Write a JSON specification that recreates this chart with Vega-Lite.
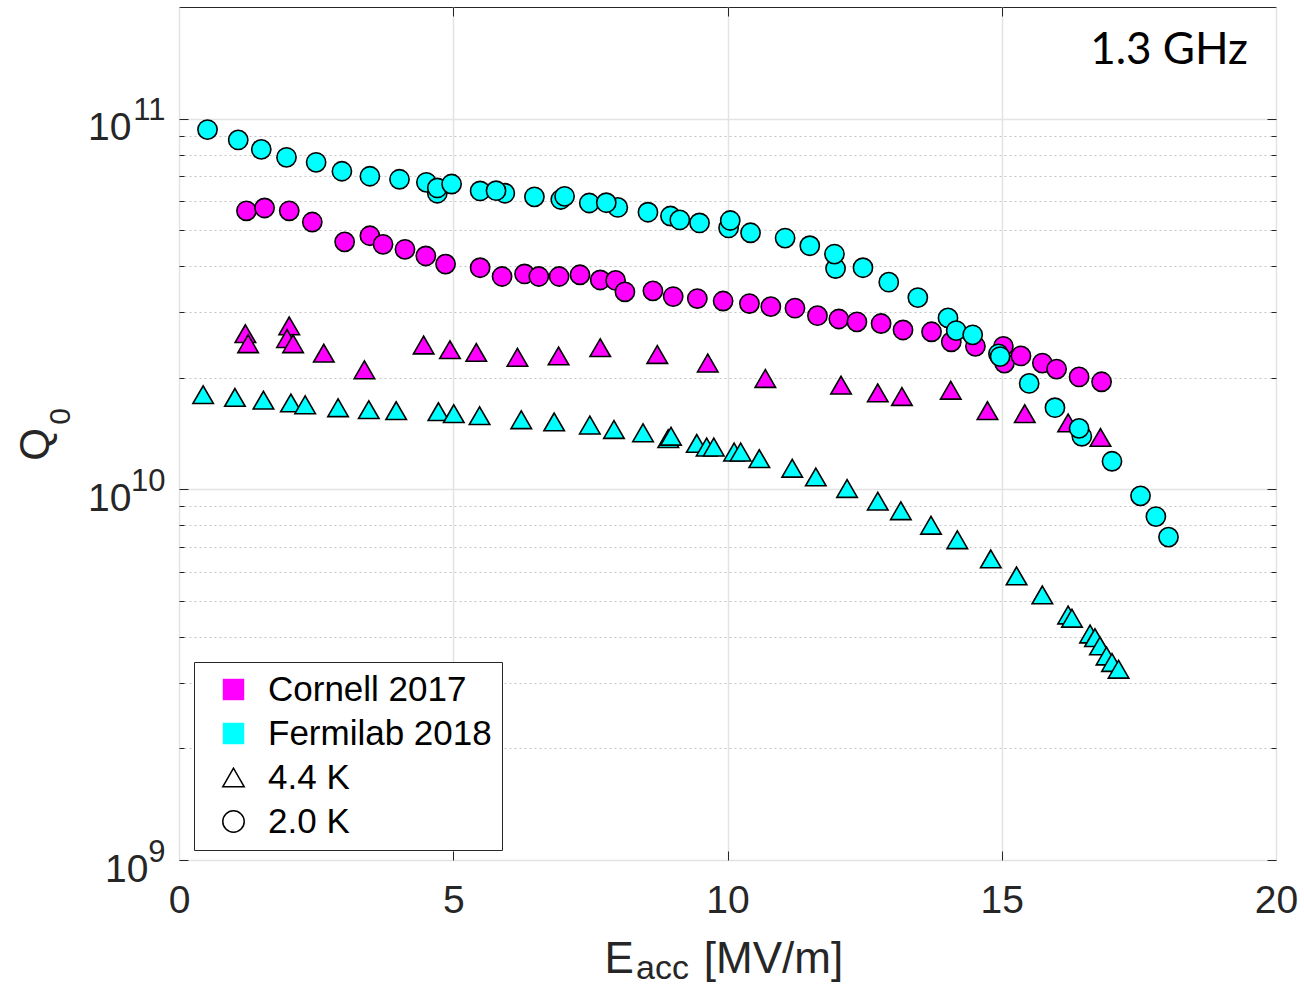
{
  "$schema": "https://vega.github.io/schema/vega-lite/v6.json",
  "width": 1097,
  "height": 853,
  "autosize": {"type": "none"},
  "padding": {"left": 179, "top": 7, "right": 28, "bottom": 126},
  "background": "white",
  "title": {"text": "1.3 GHz", "anchor": "end", "frame": "group", "orient": "top", "offset": 0, "baseline": "alphabetic", "dy": 101, "dx": -28, "font": "Lato", "fontSize": 44, "fontWeight": "normal", "color": "black"},
  "data": {"values": [
    {"e":1.21,"q":2.63e10,"lab":"Cornell 2017","t":"4.4 K"},
    {"e":1.26,"q":2.47e10,"lab":"Cornell 2017","t":"4.4 K"},
    {"e":2.01,"q":2.76e10,"lab":"Cornell 2017","t":"4.4 K"},
    {"e":1.97,"q":2.55e10,"lab":"Cornell 2017","t":"4.4 K"},
    {"e":2.08,"q":2.47e10,"lab":"Cornell 2017","t":"4.4 K"},
    {"e":2.64,"q":2.33e10,"lab":"Cornell 2017","t":"4.4 K"},
    {"e":3.38,"q":2.10e10,"lab":"Cornell 2017","t":"4.4 K"},
    {"e":4.46,"q":2.45e10,"lab":"Cornell 2017","t":"4.4 K"},
    {"e":4.94,"q":2.38e10,"lab":"Cornell 2017","t":"4.4 K"},
    {"e":5.42,"q":2.34e10,"lab":"Cornell 2017","t":"4.4 K"},
    {"e":6.17,"q":2.27e10,"lab":"Cornell 2017","t":"4.4 K"},
    {"e":6.92,"q":2.29e10,"lab":"Cornell 2017","t":"4.4 K"},
    {"e":7.68,"q":2.41e10,"lab":"Cornell 2017","t":"4.4 K"},
    {"e":8.72,"q":2.31e10,"lab":"Cornell 2017","t":"4.4 K"},
    {"e":9.64,"q":2.19e10,"lab":"Cornell 2017","t":"4.4 K"},
    {"e":10.69,"q":1.99e10,"lab":"Cornell 2017","t":"4.4 K"},
    {"e":12.07,"q":1.91e10,"lab":"Cornell 2017","t":"4.4 K"},
    {"e":12.74,"q":1.82e10,"lab":"Cornell 2017","t":"4.4 K"},
    {"e":13.18,"q":1.78e10,"lab":"Cornell 2017","t":"4.4 K"},
    {"e":14.07,"q":1.85e10,"lab":"Cornell 2017","t":"4.4 K"},
    {"e":14.74,"q":1.63e10,"lab":"Cornell 2017","t":"4.4 K"},
    {"e":15.42,"q":1.60e10,"lab":"Cornell 2017","t":"4.4 K"},
    {"e":16.21,"q":1.51e10,"lab":"Cornell 2017","t":"4.4 K"},
    {"e":16.80,"q":1.38e10,"lab":"Cornell 2017","t":"4.4 K"},
    {"e":1.23,"q":5.64e10,"lab":"Cornell 2017","t":"2.0 K"},
    {"e":1.56,"q":5.74e10,"lab":"Cornell 2017","t":"2.0 K"},
    {"e":2.01,"q":5.64e10,"lab":"Cornell 2017","t":"2.0 K"},
    {"e":2.43,"q":5.26e10,"lab":"Cornell 2017","t":"2.0 K"},
    {"e":3.02,"q":4.65e10,"lab":"Cornell 2017","t":"2.0 K"},
    {"e":3.48,"q":4.83e10,"lab":"Cornell 2017","t":"2.0 K"},
    {"e":3.72,"q":4.58e10,"lab":"Cornell 2017","t":"2.0 K"},
    {"e":4.12,"q":4.44e10,"lab":"Cornell 2017","t":"2.0 K"},
    {"e":4.50,"q":4.26e10,"lab":"Cornell 2017","t":"2.0 K"},
    {"e":4.86,"q":4.05e10,"lab":"Cornell 2017","t":"2.0 K"},
    {"e":5.49,"q":3.96e10,"lab":"Cornell 2017","t":"2.0 K"},
    {"e":5.89,"q":3.75e10,"lab":"Cornell 2017","t":"2.0 K"},
    {"e":6.30,"q":3.81e10,"lab":"Cornell 2017","t":"2.0 K"},
    {"e":6.56,"q":3.75e10,"lab":"Cornell 2017","t":"2.0 K"},
    {"e":6.93,"q":3.75e10,"lab":"Cornell 2017","t":"2.0 K"},
    {"e":7.31,"q":3.79e10,"lab":"Cornell 2017","t":"2.0 K"},
    {"e":7.68,"q":3.67e10,"lab":"Cornell 2017","t":"2.0 K"},
    {"e":7.96,"q":3.66e10,"lab":"Cornell 2017","t":"2.0 K"},
    {"e":8.13,"q":3.41e10,"lab":"Cornell 2017","t":"2.0 K"},
    {"e":8.64,"q":3.43e10,"lab":"Cornell 2017","t":"2.0 K"},
    {"e":9.01,"q":3.31e10,"lab":"Cornell 2017","t":"2.0 K"},
    {"e":9.45,"q":3.27e10,"lab":"Cornell 2017","t":"2.0 K"},
    {"e":9.92,"q":3.22e10,"lab":"Cornell 2017","t":"2.0 K"},
    {"e":10.40,"q":3.17e10,"lab":"Cornell 2017","t":"2.0 K"},
    {"e":10.79,"q":3.11e10,"lab":"Cornell 2017","t":"2.0 K"},
    {"e":11.23,"q":3.08e10,"lab":"Cornell 2017","t":"2.0 K"},
    {"e":11.64,"q":2.94e10,"lab":"Cornell 2017","t":"2.0 K"},
    {"e":12.03,"q":2.88e10,"lab":"Cornell 2017","t":"2.0 K"},
    {"e":12.36,"q":2.83e10,"lab":"Cornell 2017","t":"2.0 K"},
    {"e":12.80,"q":2.80e10,"lab":"Cornell 2017","t":"2.0 K"},
    {"e":13.20,"q":2.69e10,"lab":"Cornell 2017","t":"2.0 K"},
    {"e":13.72,"q":2.66e10,"lab":"Cornell 2017","t":"2.0 K"},
    {"e":14.08,"q":2.50e10,"lab":"Cornell 2017","t":"2.0 K"},
    {"e":14.52,"q":2.43e10,"lab":"Cornell 2017","t":"2.0 K"},
    {"e":15.03,"q":2.43e10,"lab":"Cornell 2017","t":"2.0 K"},
    {"e":15.05,"q":2.19e10,"lab":"Cornell 2017","t":"2.0 K"},
    {"e":15.35,"q":2.29e10,"lab":"Cornell 2017","t":"2.0 K"},
    {"e":15.74,"q":2.19e10,"lab":"Cornell 2017","t":"2.0 K"},
    {"e":16.00,"q":2.11e10,"lab":"Cornell 2017","t":"2.0 K"},
    {"e":16.41,"q":2.01e10,"lab":"Cornell 2017","t":"2.0 K"},
    {"e":16.82,"q":1.95e10,"lab":"Cornell 2017","t":"2.0 K"},
    {"e":0.44,"q":1.80e10,"lab":"Fermilab 2018","t":"4.4 K"},
    {"e":1.02,"q":1.77e10,"lab":"Fermilab 2018","t":"4.4 K"},
    {"e":1.54,"q":1.74e10,"lab":"Fermilab 2018","t":"4.4 K"},
    {"e":2.04,"q":1.71e10,"lab":"Fermilab 2018","t":"4.4 K"},
    {"e":2.30,"q":1.69e10,"lab":"Fermilab 2018","t":"4.4 K"},
    {"e":2.90,"q":1.66e10,"lab":"Fermilab 2018","t":"4.4 K"},
    {"e":3.46,"q":1.64e10,"lab":"Fermilab 2018","t":"4.4 K"},
    {"e":3.96,"q":1.63e10,"lab":"Fermilab 2018","t":"4.4 K"},
    {"e":4.73,"q":1.62e10,"lab":"Fermilab 2018","t":"4.4 K"},
    {"e":5.01,"q":1.60e10,"lab":"Fermilab 2018","t":"4.4 K"},
    {"e":5.48,"q":1.58e10,"lab":"Fermilab 2018","t":"4.4 K"},
    {"e":6.24,"q":1.54e10,"lab":"Fermilab 2018","t":"4.4 K"},
    {"e":6.84,"q":1.52e10,"lab":"Fermilab 2018","t":"4.4 K"},
    {"e":7.49,"q":1.49e10,"lab":"Fermilab 2018","t":"4.4 K"},
    {"e":7.93,"q":1.45e10,"lab":"Fermilab 2018","t":"4.4 K"},
    {"e":8.46,"q":1.42e10,"lab":"Fermilab 2018","t":"4.4 K"},
    {"e":8.92,"q":1.37e10,"lab":"Fermilab 2018","t":"4.4 K"},
    {"e":8.97,"q":1.39e10,"lab":"Fermilab 2018","t":"4.4 K"},
    {"e":9.44,"q":1.33e10,"lab":"Fermilab 2018","t":"4.4 K"},
    {"e":9.62,"q":1.30e10,"lab":"Fermilab 2018","t":"4.4 K"},
    {"e":9.75,"q":1.30e10,"lab":"Fermilab 2018","t":"4.4 K"},
    {"e":10.12,"q":1.26e10,"lab":"Fermilab 2018","t":"4.4 K"},
    {"e":10.24,"q":1.26e10,"lab":"Fermilab 2018","t":"4.4 K"},
    {"e":10.58,"q":1.21e10,"lab":"Fermilab 2018","t":"4.4 K"},
    {"e":11.18,"q":1.14e10,"lab":"Fermilab 2018","t":"4.4 K"},
    {"e":11.61,"q":1.08e10,"lab":"Fermilab 2018","t":"4.4 K"},
    {"e":12.18,"q":1.005e10,"lab":"Fermilab 2018","t":"4.4 K"},
    {"e":12.74,"q":9.29e9,"lab":"Fermilab 2018","t":"4.4 K"},
    {"e":13.16,"q":8.75e9,"lab":"Fermilab 2018","t":"4.4 K"},
    {"e":13.71,"q":8.00e9,"lab":"Fermilab 2018","t":"4.4 K"},
    {"e":14.19,"q":7.31e9,"lab":"Fermilab 2018","t":"4.4 K"},
    {"e":14.80,"q":6.49e9,"lab":"Fermilab 2018","t":"4.4 K"},
    {"e":15.27,"q":5.84e9,"lab":"Fermilab 2018","t":"4.4 K"},
    {"e":15.74,"q":5.19e9,"lab":"Fermilab 2018","t":"4.4 K"},
    {"e":16.21,"q":4.58e9,"lab":"Fermilab 2018","t":"4.4 K"},
    {"e":16.28,"q":4.49e9,"lab":"Fermilab 2018","t":"4.4 K"},
    {"e":16.61,"q":4.07e9,"lab":"Fermilab 2018","t":"4.4 K"},
    {"e":16.70,"q":3.98e9,"lab":"Fermilab 2018","t":"4.4 K"},
    {"e":16.79,"q":3.78e9,"lab":"Fermilab 2018","t":"4.4 K"},
    {"e":16.91,"q":3.55e9,"lab":"Fermilab 2018","t":"4.4 K"},
    {"e":17.01,"q":3.41e9,"lab":"Fermilab 2018","t":"4.4 K"},
    {"e":17.13,"q":3.27e9,"lab":"Fermilab 2018","t":"4.4 K"},
    {"e":0.52,"q":9.34e10,"lab":"Fermilab 2018","t":"2.0 K"},
    {"e":1.08,"q":8.76e10,"lab":"Fermilab 2018","t":"2.0 K"},
    {"e":1.50,"q":8.26e10,"lab":"Fermilab 2018","t":"2.0 K"},
    {"e":1.96,"q":7.86e10,"lab":"Fermilab 2018","t":"2.0 K"},
    {"e":2.50,"q":7.62e10,"lab":"Fermilab 2018","t":"2.0 K"},
    {"e":2.97,"q":7.21e10,"lab":"Fermilab 2018","t":"2.0 K"},
    {"e":3.48,"q":6.99e10,"lab":"Fermilab 2018","t":"2.0 K"},
    {"e":4.02,"q":6.86e10,"lab":"Fermilab 2018","t":"2.0 K"},
    {"e":4.51,"q":6.73e10,"lab":"Fermilab 2018","t":"2.0 K"},
    {"e":4.71,"q":6.29e10,"lab":"Fermilab 2018","t":"2.0 K"},
    {"e":4.71,"q":6.50e10,"lab":"Fermilab 2018","t":"2.0 K"},
    {"e":4.97,"q":6.66e10,"lab":"Fermilab 2018","t":"2.0 K"},
    {"e":5.49,"q":6.38e10,"lab":"Fermilab 2018","t":"2.0 K"},
    {"e":5.94,"q":6.29e10,"lab":"Fermilab 2018","t":"2.0 K"},
    {"e":5.78,"q":6.39e10,"lab":"Fermilab 2018","t":"2.0 K"},
    {"e":6.48,"q":6.15e10,"lab":"Fermilab 2018","t":"2.0 K"},
    {"e":6.96,"q":6.05e10,"lab":"Fermilab 2018","t":"2.0 K"},
    {"e":7.03,"q":6.17e10,"lab":"Fermilab 2018","t":"2.0 K"},
    {"e":7.48,"q":5.92e10,"lab":"Fermilab 2018","t":"2.0 K"},
    {"e":8.00,"q":5.76e10,"lab":"Fermilab 2018","t":"2.0 K"},
    {"e":7.79,"q":5.93e10,"lab":"Fermilab 2018","t":"2.0 K"},
    {"e":8.55,"q":5.59e10,"lab":"Fermilab 2018","t":"2.0 K"},
    {"e":8.96,"q":5.46e10,"lab":"Fermilab 2018","t":"2.0 K"},
    {"e":9.13,"q":5.33e10,"lab":"Fermilab 2018","t":"2.0 K"},
    {"e":9.49,"q":5.23e10,"lab":"Fermilab 2018","t":"2.0 K"},
    {"e":10.02,"q":5.07e10,"lab":"Fermilab 2018","t":"2.0 K"},
    {"e":10.05,"q":5.31e10,"lab":"Fermilab 2018","t":"2.0 K"},
    {"e":10.42,"q":4.92e10,"lab":"Fermilab 2018","t":"2.0 K"},
    {"e":11.05,"q":4.76e10,"lab":"Fermilab 2018","t":"2.0 K"},
    {"e":11.50,"q":4.54e10,"lab":"Fermilab 2018","t":"2.0 K"},
    {"e":11.97,"q":3.94e10,"lab":"Fermilab 2018","t":"2.0 K"},
    {"e":11.95,"q":4.31e10,"lab":"Fermilab 2018","t":"2.0 K"},
    {"e":12.47,"q":3.96e10,"lab":"Fermilab 2018","t":"2.0 K"},
    {"e":12.94,"q":3.62e10,"lab":"Fermilab 2018","t":"2.0 K"},
    {"e":13.47,"q":3.29e10,"lab":"Fermilab 2018","t":"2.0 K"},
    {"e":14.02,"q":2.90e10,"lab":"Fermilab 2018","t":"2.0 K"},
    {"e":14.17,"q":2.68e10,"lab":"Fermilab 2018","t":"2.0 K"},
    {"e":14.47,"q":2.61e10,"lab":"Fermilab 2018","t":"2.0 K"},
    {"e":14.94,"q":2.32e10,"lab":"Fermilab 2018","t":"2.0 K"},
    {"e":14.97,"q":2.28e10,"lab":"Fermilab 2018","t":"2.0 K"},
    {"e":15.50,"q":1.93e10,"lab":"Fermilab 2018","t":"2.0 K"},
    {"e":15.97,"q":1.66e10,"lab":"Fermilab 2018","t":"2.0 K"},
    {"e":16.46,"q":1.39e10,"lab":"Fermilab 2018","t":"2.0 K"},
    {"e":16.41,"q":1.46e10,"lab":"Fermilab 2018","t":"2.0 K"},
    {"e":17.01,"q":1.19e10,"lab":"Fermilab 2018","t":"2.0 K"},
    {"e":17.53,"q":9.60e9,"lab":"Fermilab 2018","t":"2.0 K"},
    {"e":17.81,"q":8.44e9,"lab":"Fermilab 2018","t":"2.0 K"},
    {"e":18.04,"q":7.43e9,"lab":"Fermilab 2018","t":"2.0 K"}
  ]},
  "layer": [
    {
      "mark": {"type": "point", "filled": true, "strokeWidth": 1.6, "opacity": 1},
      "encoding": {
        "x": {"field": "e", "type": "quantitative", "scale": {"domain": [0, 20], "nice": false, "zero": false},
          "axis": {"orient": "bottom", "values": [0, 5, 10, 15, 20], "format": "d", "labelFontSize": 39, "labelBaseline": "alphabetic", "labelPadding": 52, "labelFlush": false, "labelOverlap": false, "ticks": false, "domain": false, "grid": true, "gridColor": "#e3e3e3", "gridWidth": 1.5,
            "title": "E\u00a0\u00a0\u00a0\u00a0\u00a0\u2009[MV/m]", "titleFontSize": 44, "titleFontWeight": "normal", "titleAlign": "left", "titleBaseline": "alphabetic", "titleX": 425, "titleY": 112}},
        "y": {"field": "q", "type": "quantitative", "scale": {"type": "log", "domain": [1e9, 2e11], "nice": false},
          "axis": {"orient": "left", "values": [1e9, 1e10, 1e11], "labelExpr": "'10'", "labelFontSize": 39, "labelAlign": "right", "labelBaseline": "alphabetic", "labelOffset": 21,
            "labelPadding": {"condition": {"test": "datum.value < 2e9", "value": 31}, "value": 48},
            "labelFlush": false, "labelOverlap": false, "ticks": false, "domain": false, "grid": true, "gridColor": "#e3e3e3", "gridWidth": 1.5,
            "title": "Q", "titleFontSize": 42, "titleFontWeight": "normal", "titleAngle": 270, "titleAlign": "center", "titleBaseline": "middle", "titleX": -144, "titleY": 437}},
        "fill": {"field": "lab", "type": "nominal",
          "scale": {"domain": ["Cornell 2017", "Fermilab 2018", "4.4 K", "2.0 K"], "range": ["#ff00ff", "#00ffff", "transparent", "transparent"]},
          "legend": {"title": null, "orient": "none", "legendX": 15, "legendY": 655}},
        "shape": {"field": "t", "type": "nominal",
          "scale": {"domain": ["Cornell 2017", "Fermilab 2018", "4.4 K", "2.0 K"], "range": ["square", "square", "triangle-up", "circle"]},
          "legend": {"title": null, "orient": "none", "legendX": 15, "legendY": 655}},
        "stroke": {"field": "t", "type": "nominal",
          "scale": {"domain": ["Cornell 2017", "Fermilab 2018", "4.4 K", "2.0 K"], "range": ["transparent", "transparent", "black", "black"]},
          "legend": {"title": null, "orient": "none", "legendX": 15, "legendY": 655}},
        "size": {"condition": {"test": "datum.t === '4.4 K'", "value": 420}, "value": 370}
      }
    },
    {
      "mark": {"type": "point", "opacity": 0},
      "encoding": {
        "x": {"field": "e", "type": "quantitative", "scale": {"domain": [0, 20], "nice": false, "zero": false},
          "axis": {"orient": "top", "values": [5, 10, 15], "labels": false, "ticks": true, "tickSize": -9, "tickColor": "#262626", "grid": false, "domain": false,
            "title": "acc", "titleFontSize": 34, "titleFontWeight": "normal", "titleAlign": "center", "titleBaseline": "alphabetic", "titleX": 483, "titleY": 971}},
        "y": {"field": "q", "type": "quantitative", "scale": {"type": "log", "domain": [1e9, 2e11], "nice": false},
          "axis": {"orient": "left", "values": [1e9, 1e10, 1e11], "labelExpr": "format(round(log(datum.value)/LN10), 'd')", "labelFontSize": 31, "labelAlign": "right", "labelBaseline": "alphabetic", "labelOffset": 1, "labelPadding": 14, "labelFlush": false, "labelOverlap": false, "ticks": false, "domain": false, "grid": false,
            "title": "0", "titleFontSize": 30, "titleFontWeight": "normal", "titleAngle": 270, "titleAlign": "center", "titleBaseline": "middle", "titleX": -119, "titleY": 409}}
      }
    },
    {
      "mark": {"type": "point", "opacity": 0},
      "encoding": {
        "x": {"field": "e", "type": "quantitative", "scale": {"domain": [0, 20], "nice": false, "zero": false},
          "axis": {"orient": "bottom", "values": [5, 10, 15], "labels": false, "ticks": true, "tickSize": -9, "tickColor": "#262626", "grid": false, "domain": false, "title": null}},
        "y": {"field": "q", "type": "quantitative", "scale": {"type": "log", "domain": [1e9, 2e11], "nice": false},
          "axis": {"orient": "right", "values": [1e9,2e9,3e9,4e9,5e9,6e9,7e9,8e9,9e9,1e10,2e10,3e10,4e10,5e10,6e10,7e10,8e10,9e10,1e11], "labels": false, "ticks": true, "tickColor": "#262626",
            "tickSize": {"condition": {"test": "abs(log(datum.value)/LN10 - round(log(datum.value)/LN10)) < 0.001", "value": -9}, "value": -5},
            "grid": true, "gridDash": [2, 3], "gridColor": "#c4c4c4", "gridWidth": 1,
            "gridOpacity": {"condition": {"test": "abs(log(datum.value)/LN10 - round(log(datum.value)/LN10)) < 0.001", "value": 0}, "value": 1},
            "domain": false, "title": null}}
      }
    },
    {
      "mark": {"type": "point", "opacity": 0},
      "encoding": {
        "x": {"field": "e", "type": "quantitative", "scale": {"domain": [0, 20], "nice": false, "zero": false}, "axis": null},
        "y": {"field": "q", "type": "quantitative", "scale": {"type": "log", "domain": [1e9, 2e11], "nice": false},
          "axis": {"orient": "left", "values": [1e9,2e9,3e9,4e9,5e9,6e9,7e9,8e9,9e9,1e10,2e10,3e10,4e10,5e10,6e10,7e10,8e10,9e10,1e11], "labels": false, "ticks": true, "tickColor": "#262626",
            "tickSize": {"condition": {"test": "abs(log(datum.value)/LN10 - round(log(datum.value)/LN10)) < 0.001", "value": -9}, "value": -5},
            "grid": false, "domain": false, "title": null}}
      }
    }
  ],
  "resolve": {"axis": {"x": "independent", "y": "independent"}},
  "config": {
    "view": {"stroke": "#262626", "strokeWidth": 1},
    "axis": {"labelFont": "Liberation Sans", "titleFont": "Liberation Sans", "labelColor": "#262626", "titleColor": "#262626"},
    "legend": {"orient": "none", "legendX": 15, "legendY": 655, "padding": 10, "symbolOffset": 12, "labelOffset": 17, "rowPadding": 8, "symbolSize": 460, "symbolStrokeWidth": 1.5, "labelFontSize": 35, "labelFont": "Liberation Sans", "labelColor": "black", "labelLimit": 400, "strokeColor": "#262626", "fillColor": "white"}
  }
}
